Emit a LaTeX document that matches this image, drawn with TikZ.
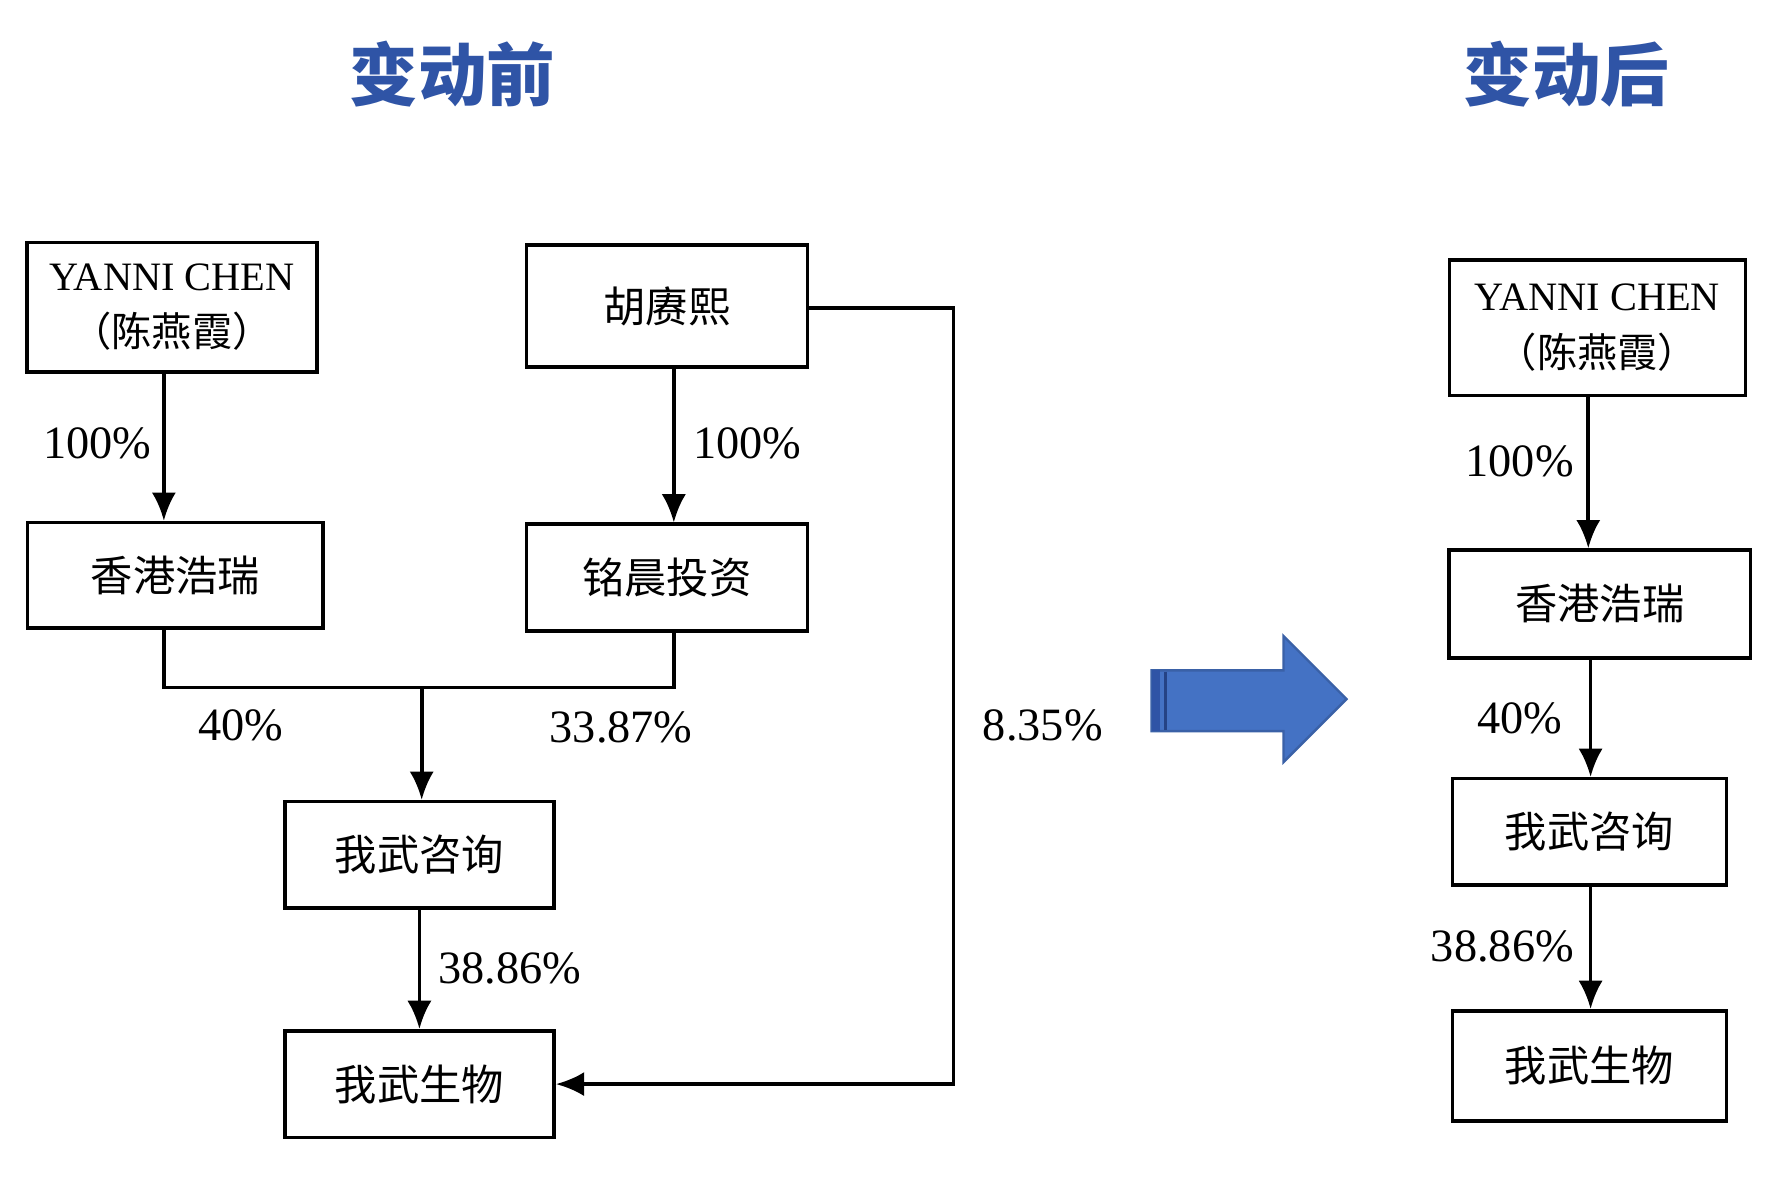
\documentclass[tikz,border=0pt]{standalone}
\usepackage{fontspec}
\setmainfont{Liberation Serif}
\newfontfamily\cjk{Noto Sans CJK SC}
\usepackage{tikz}
\usetikzlibrary{arrows.meta, positioning, calc}
\definecolor{titleblue}{RGB}{47, 84, 166}
\definecolor{arrowblue}{RGB}{68, 114, 196}
\tikzset{
    entity/.style={rectangle, draw=black, line width=0.9pt, fill=white, align=center, inner sep=0pt, font=\cjk\fontsize{10.5}{12}\selectfont},
    pct/.style={font=\fontsize{11.5}{14}\selectfont},
    title/.style={font=\cjk\bfseries\fontsize{17}{20}\selectfont, text=titleblue},
    arrow/.style={line width=0.9pt, -{Latex[length=7pt, width=6pt]}},
    link/.style={line width=0.9pt}
}
\begin{document}
\begin{tikzpicture}[x=0.01cm, y=-0.01cm]
    \useasboundingbox (0,0) rectangle (1562,1030);
    % Titles
    \node[title] (tbefore) at (395,65) {变动前};
    \node[title] (tafter) at (1367,65) {变动后};

    % Before
    \node[entity, minimum width=2.53cm, minimum height=1.13cm, font=\fontsize{10}{14}\selectfont] (yanni) at (150,268) {YANNI CHEN\\{\cjk （陈燕霞）}};
    \node[entity, minimum width=2.45cm, minimum height=1.06cm] (hu) at (582,267) {胡赓熙};
    \node[entity, minimum width=2.58cm, minimum height=0.92cm] (hkhr) at (153,502) {香港浩瑞};
    \node[entity, minimum width=2.45cm, minimum height=0.93cm] (mc) at (582,504) {铭晨投资};
    \node[entity, minimum width=2.35cm, minimum height=0.93cm] (wwzx) at (366,746) {我武咨询};
    \node[entity, minimum width=2.35cm, minimum height=0.93cm] (wwsw) at (366,946) {我武生物};
    \coordinate (merge) at (368,600);
    \coordinate (bend) at (832,269);

    \draw[arrow] (yanni.south -| 143,0) -- (hkhr.north -| 143,0);
    \draw[arrow] (hu.south -| 588,0) -- (mc.north -| 588,0);
    \draw[link] (hkhr.south -| 143,0) |- (merge);
    \draw[link] (mc.south -| 588,0) |- (merge);
    \draw[arrow] (merge) -- (wwzx.north -| merge);
    \draw[arrow] (wwzx) -- (wwsw);
    \draw[arrow] (hu.east |- bend) -- (bend) |- (wwsw.east);

    \node[pct] at (85,387) {100\%};
    \node[pct] at (652,387) {100\%};
    \node[pct] at (210,633) {40\%};
    \node[pct] at (542,635) {33.87\%};
    \node[pct] at (910,633) {8.35\%};
    \node[pct] at (445,845) {38.86\%};

    % Change arrow
    \fill[arrowblue, draw=arrowblue!85!black, line width=0.6pt] (1005,585) -- (1120,585) -- (1120,555) -- (1175,610) -- (1120,665) -- (1120,638) -- (1005,638) -- cycle;
    \fill[titleblue] (1005,585) rectangle (1012,638);
    \draw[titleblue!80!black, line width=0.8pt] (1017,586) -- (1017,637);

    % After
    \node[entity, minimum width=2.58cm, minimum height=1.18cm, font=\fontsize{10}{14}\selectfont] (yanni2) at (1394,286) {YANNI CHEN\\{\cjk （陈燕霞）}};
    \node[entity, minimum width=2.63cm, minimum height=0.94cm] (hkhr2) at (1396,527) {香港浩瑞};
    \node[entity, minimum width=2.39cm, minimum height=0.93cm] (wwzx2) at (1387,726) {我武咨询};
    \node[entity, minimum width=2.39cm, minimum height=0.96cm] (wwsw2) at (1387,930) {我武生物};

    \draw[arrow] (yanni2.south -| 1386,0) -- (hkhr2.north -| 1386,0);
    \draw[arrow] (hkhr2.south -| 1388,0) -- (wwzx2.north -| 1388,0);
    \draw[arrow] (wwzx2.south -| 1388,0) -- (wwsw2.north -| 1388,0);

    \node[pct] at (1326,403) {100\%};
    \node[pct] at (1326,627) {40\%};
    \node[pct] at (1311,826) {38.86\%};
\end{tikzpicture}
\end{document}
